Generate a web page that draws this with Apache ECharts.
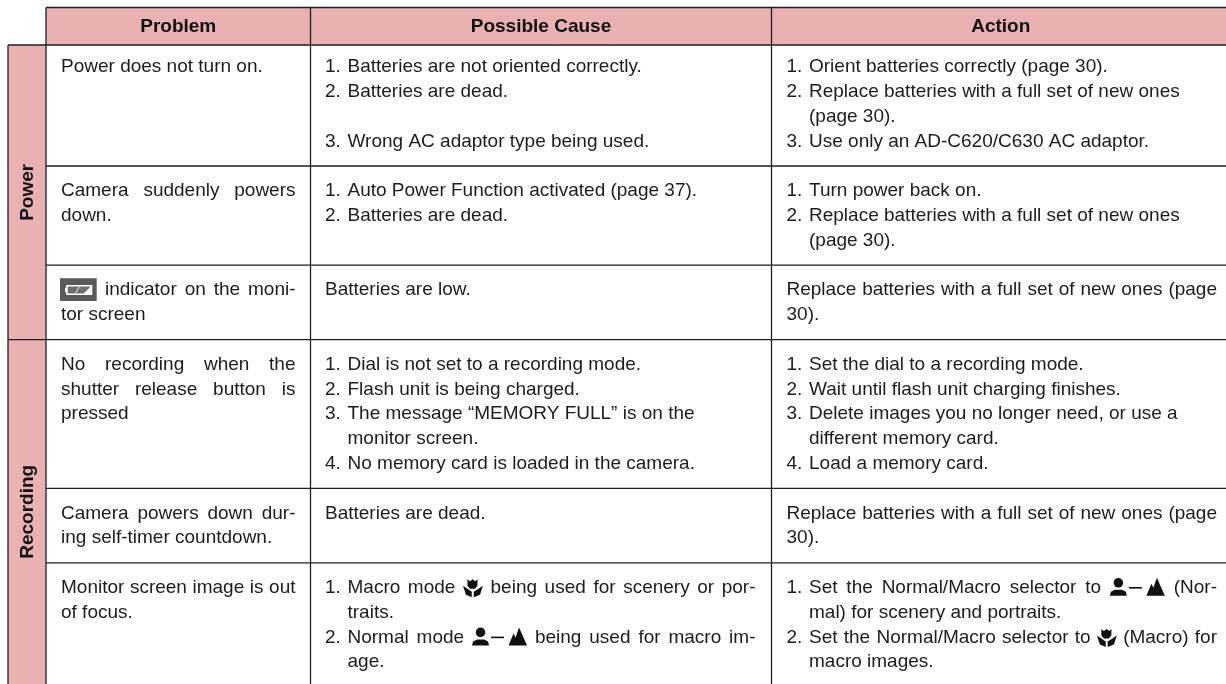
<!DOCTYPE html>
<html>
<head>
<meta charset="utf-8">
<style>html,body{margin:0;padding:0;background:#fff}#chart{width:1226px;height:684px}</style>
<script src="https://cdn.jsdelivr.net/npm/echarts@6/dist/echarts.min.js"></script>
</head>
<body>
<div id="chart"></div>
<script>
var columnNames = ["Problem", "Possible Cause", "Action"];
var sectionNames = ["Power", "Recording"];
var sectionRowCounts = [3, 3];

// one list of text lines per row, blank line keeps the numbering level with the next column
// leading spaces = hanging indent, {name} = inline icon
var problemLines = [
    ["Power does not turn on."],
    ["Camera suddenly powers", "down."],
    ["{battery} indicator on the moni-", "tor screen"],
    ["No recording when the", "shutter release button is", "pressed"],
    ["Camera powers down dur-", "ing self-timer countdown."],
    ["Monitor screen image is out", "of focus."]
];
var causeLines = [
    ["1. Batteries are not oriented correctly.", "2. Batteries are dead.", "", "3. Wrong AC adaptor type being used."],
    ["1. Auto Power Function activated (page 37).", "2. Batteries are dead."],
    ["Batteries are low."],
    ["1. Dial is not set to a recording mode.", "2. Flash unit is being charged.", "3. The message “MEMORY FULL” is on the", "   monitor screen.", "4. No memory card is loaded in the camera."],
    ["Batteries are dead."],
    ["1. Macro mode {macro} being used for scenery or por-", "   traits.", "2. Normal mode {normal} being used for macro im-", "   age."]
];
var actionLines = [
    ["1. Orient batteries correctly (page 30).", "2. Replace batteries with a full set of new ones", "   (page 30).", "3. Use only an AD-C620/C630 AC adaptor."],
    ["1. Turn power back on.", "2. Replace batteries with a full set of new ones", "   (page 30)."],
    ["Replace batteries with a full set of new ones (page", "30)."],
    ["1. Set the dial to a recording mode.", "2. Wait until flash unit charging finishes.", "3. Delete images you no longer need, or use a", "   different memory card.", "4. Load a memory card."],
    ["Replace batteries with a full set of new ones (page", "30)."],
    ["1. Set the Normal/Macro selector to {normal} (Nor-", "   mal) for scenery and portraits.", "2. Set the Normal/Macro selector to {macro} (Macro) for", "   macro images."]
];
// lines the original sets flush to both cell edges
var justifiedLines = [
    "Camera suddenly powers", "{battery} indicator on the moni-", "No recording when the", "shutter release button is",
    "Camera powers down dur-", "Monitor screen image is out",
    "1. Macro mode {macro} being used for scenery or por-", "2. Normal mode {normal} being used for macro im-",
    "Replace batteries with a full set of new ones (page",
    "1. Set the Normal/Macro selector to {normal} (Nor-", "2. Set the Normal/Macro selector to {macro} (Macro) for"
];

// layout of the page, in pixels
var FONT = '"Liberation Sans", Arial, sans-serif';
var FONT_SIZE = 19;
var TEXT_COLOR = "#1c1c1c";
var RULE_COLOR = "#1e1e1e";
var FILL_COLOR = "#e9b1b1";
var X_SIDE = 8, X_COLS = [46, 310.5, 771.5], X_END = 1226;
var Y_TOP = 7.5, Y_HEAD = 45, Y_END = 684;
var LINE_Y0 = 67, LINE_STEP = 24.8;
var TEXT_BOXES = [[61, 295.5, 0], [325, 755.5, 22.5], [786.5, 1217, 22.5]];
var ICON_W = {battery: 36, macro: 20, normal: 55};

var ctx = document.createElement("canvas").getContext("2d");
ctx.font = FONT_SIZE + "px " + FONT;

function tokenWidth(t) {
    var m = t.match(/^\{(\w+)\}$/);
    return m ? ICON_W[m[1]] : ctx.measureText(t).width;
}

function iconShapes(name, x, yc) {
    var black = {fill: "#111"};
    if (name === "battery") {
        return [
            {type: "rect", shape: {x: x - 1, y: yc - 12, width: 36.7, height: 22.7}, style: {fill: "#5a5a5a"}},
            {type: "rect", shape: {x: x + 6, y: yc - 4.5, width: 24.5, height: 8.5}, style: {fill: "#6e6e6e", stroke: "#fff", lineWidth: 1.6}},
            {type: "rect", shape: {x: x + 4, y: yc - 2.5, width: 2, height: 4.5}, style: {fill: "#fff"}},
            {type: "polygon", shape: {points: [[x + 13, yc + 4], [x + 18, yc - 4.5], [x + 19.5, yc - 4.5], [x + 14.5, yc + 4]]}, style: {fill: "#c8c8c8"}},
            {type: "polygon", shape: {points: [[x + 30.5, yc - 4.5], [x + 30.5, yc + 4], [x + 22, yc + 4]]}, style: {fill: "#fff"}}
        ];
    }
    if (name === "macro") {
        return [
            {type: "polygon", shape: {points: [[x + 4.5, yc - 8.5], [x + 7, yc - 6.5], [x + 9.7, yc - 8.5], [x + 12.2, yc - 6.5], [x + 14.5, yc - 8.5], [x + 14.5, yc - 2], [x + 12, yc + 1], [x + 7, yc + 1], [x + 4.5, yc - 2]]}, style: black},
            {type: "polygon", shape: {points: [[x, yc - 2], [x + 4.5, yc + 1], [x + 8.8, yc + 4], [x + 8.8, yc + 9.5], [x + 3, yc + 7]]}, style: black},
            {type: "polygon", shape: {points: [[x + 20, yc - 2], [x + 15.5, yc + 1], [x + 10.8, yc + 4], [x + 10.8, yc + 9.5], [x + 17, yc + 7]]}, style: black}
        ];
    }
    return [
        {type: "circle", shape: {cx: x + 8.5, cy: yc - 5, r: 4.8}, style: black},
        {type: "polygon", shape: {points: [[x, yc + 8], [x + 1, yc + 4], [x + 5, yc + 2], [x + 12, yc + 2], [x + 16, yc + 4], [x + 17, yc + 8]]}, style: black},
        {type: "rect", shape: {x: x + 19, y: yc - 0.8, width: 13, height: 1.6}, style: black},
        {type: "polygon", shape: {points: [[x + 36.5, yc + 8], [x + 41.5, yc - 4], [x + 43.5, yc], [x + 47, yc - 10], [x + 55, yc + 8]]}, style: black}
    ];
}

// rows of the table with the line number each one starts at
var rowData = [];
(function () {
    var lineNo = 0;
    for (var i = 0; i < problemLines.length; i++) {
        var used = Math.max(problemLines[i].length, causeLines[i].length, actionLines[i].length);
        rowData.push({start: lineNo, used: used});
        lineNo += used + 1;
    }
})();

// flat list of every text line: [column, lineNo, text]
var lineItems = [];
[problemLines, causeLines, actionLines].forEach(function (col, c) {
    col.forEach(function (row, r) {
        row.forEach(function (txt, k) {
            if (txt) lineItems.push([c, rowData[r].start + k, txt]);
        });
    });
});

function ruleY(lineNo) {
    return LINE_Y0 + LINE_STEP * lineNo - 0.2;
}

var myChart = echarts.init(document.getElementById("chart"));

function renderTable(params, api) {
    var p = function (x, y) { return api.coord([x, y]); };
    var children = [];
    var line = function (x1, y1, x2, y2) {
        var a = p(x1, y1), b = p(x2, y2);
        children.push({type: "line", shape: {x1: a[0], y1: a[1], x2: b[0], y2: b[1]}, style: {stroke: RULE_COLOR, lineWidth: 1.3}, z2: 5});
    };
    var head0 = p(X_COLS[0], Y_TOP), head1 = p(X_END, Y_HEAD);
    children.push({type: "rect", shape: {x: head0[0], y: head0[1], width: head1[0] - head0[0], height: head1[1] - head0[1]}, style: {fill: FILL_COLOR}});
    var side0 = p(X_SIDE, Y_HEAD), side1 = p(X_COLS[0], Y_END);
    children.push({type: "rect", shape: {x: side0[0], y: side0[1], width: side1[0] - side0[0], height: side1[1] - side0[1]}, style: {fill: FILL_COLOR}});

    line(X_COLS[0], Y_TOP, X_END, Y_TOP);
    line(X_SIDE, Y_HEAD, X_END, Y_HEAD);
    line(X_SIDE, Y_HEAD, X_SIDE, Y_END);
    X_COLS.forEach(function (x) { line(x, Y_TOP, x, Y_END); });

    var count = 0, sectionEnds = [];
    sectionRowCounts.forEach(function (n) { count += n; sectionEnds.push(count); });
    rowData.forEach(function (row, i) {
        if (i === rowData.length - 1) return;
        var y = ruleY(row.start + row.used);
        var isSection = sectionEnds.indexOf(i + 1) >= 0;
        line(isSection ? X_SIDE : X_COLS[0], y, X_END, y);
    });

    columnNames.forEach(function (name, c) {
        var right = c < 2 ? X_COLS[c + 1] : X_END;
        var o = p((X_COLS[c] + right) / 2 + (c === 2 ? 2 : 0), (Y_TOP + Y_HEAD) / 2 + 0.5);
        children.push({type: "text", x: o[0], y: o[1], style: {text: name, font: "bold " + FONT_SIZE + "px " + FONT, fill: "#111", align: "center", verticalAlign: "middle"}, z2: 6});
    });
    var sectionStart = Y_HEAD;
    sectionNames.forEach(function (name, s) {
        var lastRow = rowData[sectionEnds[s] - 1];
        var end = s === sectionNames.length - 1 ? Y_END : ruleY(lastRow.start + lastRow.used);
        var o = p((X_SIDE + X_COLS[0]) / 2 + 0.5, (sectionStart + end) / 2);
        children.push({type: "text", x: o[0], y: o[1], rotation: Math.PI / 2, style: {text: name, font: "bold " + FONT_SIZE + "px " + FONT, fill: "#111", align: "center", verticalAlign: "middle"}, z2: 6});
        sectionStart = end;
    });
    return {type: "group", children: children};
}

function renderLine(params, api) {
    var item = lineItems[params.dataIndex];
    var box = TEXT_BOXES[item[0]];
    var txt = item[2];
    var x = box[0];
    var pending = [];
    var numMatch = txt.match(/^(\d\.) (.*)$/);
    var indent = box[2];
    if (numMatch) {
        pending.push({t: numMatch[1], x: x});
        txt = numMatch[2];
        x += indent;
    } else if (txt.indexOf("   ") === 0) {
        txt = txt.trim();
        x += indent;
    }
    var words = txt.split(" ");
    var total = 0;
    words.forEach(function (w) { total += tokenWidth(w); });
    var gap = tokenWidth(" ");
    if (justifiedLines.indexOf(item[2]) >= 0 && words.length > 1) {
        gap = (box[1] - x - total) / (words.length - 1);
    }
    var yPos = api.coord([0, LINE_Y0 + LINE_STEP * item[1]])[1];
    var origin = api.coord([0, 0])[0];
    var children = [];
    var addText = function (t, wx) {
        children.push({type: "text", x: wx + origin, y: yPos, style: {text: t, font: FONT_SIZE + "px " + FONT, fill: TEXT_COLOR, verticalAlign: "middle"}});
    };
    pending.forEach(function (q) { addText(q.t, q.x); });
    var cursor = x;
    words.forEach(function (w) {
        var m = w.match(/^\{(\w+)\}$/);
        if (m) {
            children = children.concat(iconShapes(m[1], cursor + origin, yPos));
        } else {
            addText(w, cursor);
        }
        cursor += tokenWidth(w) + gap;
    });
    return {type: "group", children: children};
}

var option = {
    animation: false,
    grid: {left: 0, right: 0, top: 0, bottom: 0},
    xAxis: {type: "value", min: 0, max: X_END, show: false},
    yAxis: {type: "value", min: 0, max: Y_END, inverse: true, show: false},
    series: [
        {type: "custom", silent: true, clip: false, renderItem: renderTable, data: [[0, 0]]},
        {type: "custom", silent: true, clip: false, z: 3, renderItem: renderLine, data: lineItems.map(function (d) { return [d[0], d[1]]; })}
    ]
};
myChart.setOption(option);
</script>
</body>
</html>
